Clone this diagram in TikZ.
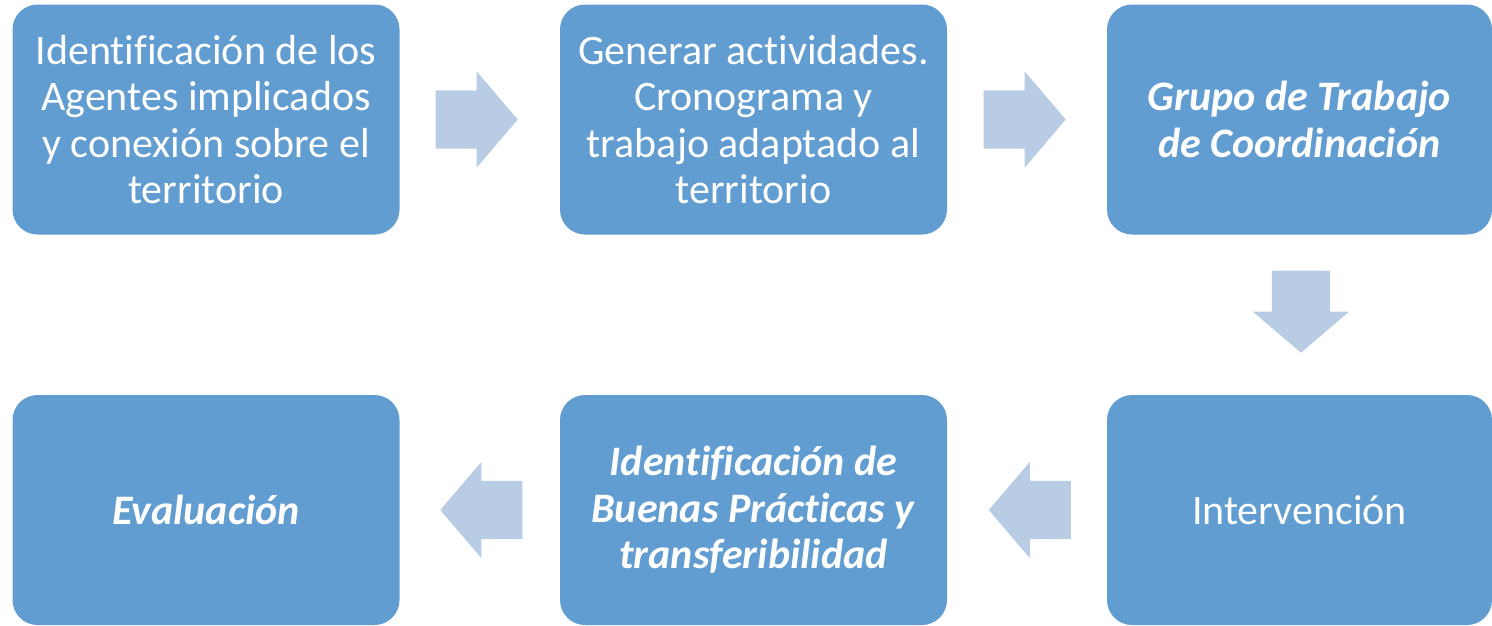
\documentclass[tikz,border=0pt]{standalone}
\usepackage{fontspec}
\setmainfont[Ligatures=NoCommon]{Carlito}
\usetikzlibrary{shapes, shapes.arrows}

\definecolor{cajaazul}{RGB}{98,157,209}
\definecolor{flechaazul}{RGB}{184,204,228}

\begin{document}
\begin{tikzpicture}[x=1pt, y=-1pt]
    \tikzstyle{paso} = [rectangle, rounded corners=25pt, fill=cajaazul, text=white,
        minimum width=387pt, minimum height=230pt, align=center,
        font=\fontsize{42}{46.5}\selectfont]
    \tikzstyle{flecha} = [single arrow, fill=flechaazul, inner sep=0pt, anchor=tip,
        text height=29pt, text depth=29pt, text width=0pt,
        minimum height=82pt, minimum width=96pt, single arrow head extend=19pt,
        single arrow tip angle=99]
    \useasboundingbox (0,0) rectangle (1492,625);
    \node (a) [paso] at (206, 119.5) {Identificación de los\\Agentes implicados\\y conexión sobre el\\territorio};
    \node (b) [paso] at (753.5, 119.5) {Generar actividades.\\Cronograma y\\trabajo adaptado al\\territorio};
    \node (c) [paso, minimum width=385pt] at (1299.5, 119.5) {\textbf{\textit{Grupo de Trabajo}}\\\textbf{\textit{de Coordinación}}};
    \node (d) [paso, minimum width=385pt] at (1299.5, 510) {Intervención};
    \node (e) [paso] at (753.5, 510) {\textbf{\textit{Identificación de}}\\\textbf{\textit{Buenas Prácticas y}}\\\textbf{\textit{transferibilidad}}};
    \node (f) [paso] at (206, 510) {\textbf{\textit{Evaluación}}};
    \node (ab) [flecha] at (518, 119.5) {};
    \node (bc) [flecha] at (1066, 119.5) {};
    \node (cd) [flecha, rotate=-90] at (1301, 353) {};
    \node (de) [flecha, shape border rotate=180] at (988.5, 510) {};
    \node (ef) [flecha, shape border rotate=180] at (440, 510) {};
\end{tikzpicture}
\end{document}
